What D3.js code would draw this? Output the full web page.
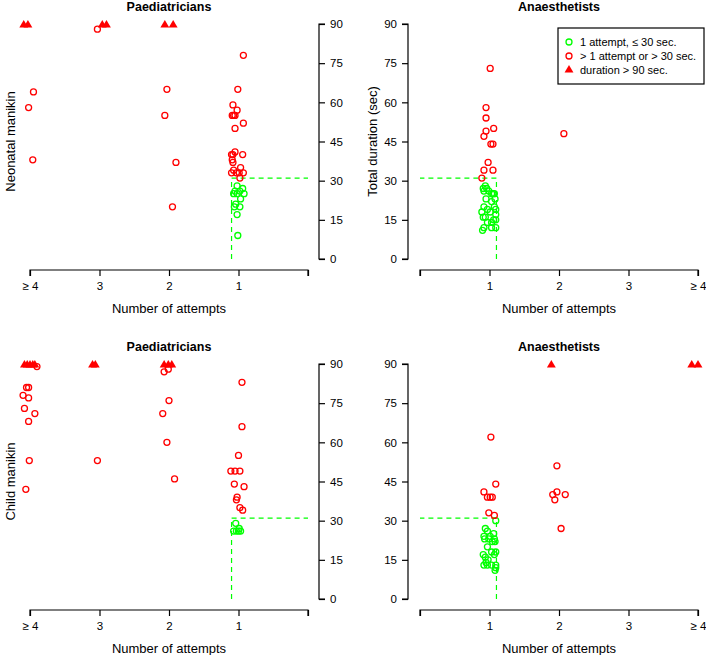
<!DOCTYPE html>
<html>
<head>
<meta charset="utf-8">
<script src="https://cdn.jsdelivr.net/npm/d3@7"></script>
<style>
  body { margin: 0; background: #fff; }
  text { font-family: "Liberation Sans", Arial, sans-serif; fill: #000; }
</style>
</head>
<body>
<svg id="chart" width="706" height="655"></svg>
<script>
// number of attempts (4 = "≥ 4", jittered) and total duration (sec)
const yTicks = [0, 15, 30, 45, 60, 75, 90];
const xTicks = [0, 1, 2, 3, 4];
const xTickLabels = ["", "1", "2", "3", "\u2265 4"];
const cutoffAttempts = 1.1, cutoffSec = 31;

// neonatal manikin, paediatricians
const neoPaedGreen = [[1.02,28],[0.94,27],[1.05,26],[0.98,26],[0.92,25],[1.02,25],[1.07,25],[0.97,23],[1.04,21],[1.06,20],[0.98,20],[1.02,17],[1.01,9]];
const neoPaedRed = [[3.95,64],[4.02,58],[3.96,38],[3.03,88],[2.03,65],[2.06,55],[1.90,37],[1.95,20],
  [0.93,78],[1.01,65],[1.08,59],[1.02,57],[1.09,55],[1.07,55],[1.05,55],[0.93,52],[1.05,50],
  [1.05,41],[1.08,40],[1.10,40],[0.94,40],[1.09,38],[1.08,37],[1.07,34],[0.97,35],
  [1.10,33],[1.03,33],[0.99,33],[0.93,33],[0.98,31]];
const neoPaedOver = [4.09, 4.03, 2.96, 2.90, 2.06, 1.94];

// neonatal manikin, anaesthetists
const neoAnaGreen = [[0.94,28],[0.91,27],[0.96,27],[0.92,26],[0.99,26],[1.05,25],[1.03,25],[1.07,25],[0.95,23],
  [1.03,22],[1.08,23],[0.92,20],[0.97,19],[1.07,20],[1.09,19],[0.89,18],[1.01,18],[1.09,17],[0.94,16],[0.91,16],
  [1.06,15],[1.09,15],[0.97,14],[1.03,14],[0.92,12],[0.90,11],[1.03,12],[1.09,12]];
const neoAnaRed = [[1.01,73],[0.95,58],[0.95,54],[1.06,50],[0.95,49],[0.92,47],[1.02,44],[1.05,44],[0.98,37],
  [0.92,34],[1.05,34],[0.89,31],[2.07,48]];
const neoAnaOver = [];

// child manikin, paediatricians
const childPaedGreen = [[1.04,29],[1.07,26],[1.03,26],[0.99,27],[0.97,26],[1.00,26]];
const childPaedRed = [[3.90,89],[4.05,81],[4.02,81],[4.10,78],[4.02,77],[4.08,73],[3.93,71],[4.02,68],[4.01,53],[4.06,42],
  [3.03,53],[2.07,87],[2.01,88],[2.00,76],[2.09,71],[2.03,60],[1.92,46],
  [0.95,83],[0.95,66],[1.00,55],[1.11,49],[1.05,49],[0.98,49],[1.06,44],[0.92,43],[1.02,39],[1.03,38],[0.98,35],[0.94,34]];
const childPaedOver = [4.08, 4.04, 4.00, 3.96, 3.93, 3.10, 3.06, 2.07, 2.01, 1.96];

// child manikin, anaesthetists
const childAnaGreen = [[1.09,30],[0.94,27],[0.97,26],[1.06,25],[0.92,24],[1.01,24],[0.93,23],[0.99,23],[1.07,23],
  [1.04,22],[1.08,22],[0.97,20],[1.03,18],[1.09,18],[0.91,17],[1.07,17],[0.94,16],[0.98,15],[0.95,14],
  [0.92,13],[0.97,13],[1.03,13],[1.09,13],[1.09,12],[1.08,11]];
const childAnaRed = [[1.02,62],[1.09,44],[0.92,41],[0.97,39],[1.01,39],[1.04,39],[0.99,33],[1.07,32],
  [1.97,51],[1.91,40],[1.97,41],[2.09,40],[1.94,38],[2.03,27]];
const childAnaOver = [1.89, 3.91, 4.00];

const red = "#ff0000", green = "#00ff00";

const svg = d3.select("#chart");

const panels = [
  {title: "Paediatricians", rowLabel: "Neonatal manikin", flip: true, top: 24, green: neoPaedGreen, red: neoPaedRed, over: neoPaedOver},
  {title: "Anaesthetists", rowLabel: "Total duration (sec)", flip: false, top: 24, green: neoAnaGreen, red: neoAnaRed, over: neoAnaOver, legend: true},
  {title: "Paediatricians", rowLabel: "Child manikin", flip: true, top: 364, green: childPaedGreen, red: childPaedRed, over: childPaedOver},
  {title: "Anaesthetists", rowLabel: null, flip: false, top: 364, green: childAnaGreen, red: childAnaRed, over: childAnaOver}
];

const tri = d3.symbol().type(d3.symbolTriangle).size(34);

panels.forEach(p => {
  const x = p.flip ? d3.scaleLinear().domain([4, 0]).range([30, 308])
                   : d3.scaleLinear().domain([0, 4]).range([420, 698]);
  const y = d3.scaleLinear().domain([0, 90]).range([p.top + 235, p.top]);
  const axisY = p.top + 246;
  const g = svg.append("g");

  // x axis
  g.append("g")
    .attr("transform", `translate(0,${axisY})`)
    .call(d3.axisBottom(x).tickValues(xTicks).tickFormat((d, i) => xTickLabels[d]).tickSize(6).tickPadding(6))
    .call(a => a.select(".domain").attr("d", `M${x.range()[0]},6V0H${x.range()[1]}V6`))
    .call(a => a.selectAll("text").style("font-size", "11.5px").attr("font-family", null));

  // y axis
  const yAxis = p.flip ? d3.axisRight(y) : d3.axisLeft(y);
  g.append("g")
    .attr("transform", `translate(${p.flip ? 319 : 408},0)`)
    .call(yAxis.tickValues(yTicks).tickSize(6).tickPadding(5))
    .call(a => a.select(".domain").attr("d", `M${p.flip ? 6 : -6},${y(0)}H0V${y(90)}H${p.flip ? 6 : -6}`))
    .call(a => a.selectAll("text").style("font-size", "11.5px").attr("font-family", null));
  g.selectAll(".domain, .tick line").attr("stroke", "#000").attr("stroke-width", 1.2);

  // titles
  g.append("text").attr("x", x(2)).attr("y", p.top - 13)
    .attr("text-anchor", "middle").style("font-size", "12.5px").style("font-weight", "bold").text(p.title);
  g.append("text").attr("x", x(2)).attr("y", axisY + 43)
    .attr("text-anchor", "middle").style("font-size", "13px").text("Number of attempts");
  if (p.rowLabel) {
    const lx = p.flip ? 15 : 377;
    g.append("text").attr("transform", `translate(${lx},${y(45)}) rotate(-90)`)
      .attr("text-anchor", "middle").style("font-size", "13px").text(p.rowLabel);
  }

  // cutoff lines
  g.append("path")
    .attr("d", `M${x(cutoffAttempts)},${y(0)}V${y(cutoffSec)}H${x(0)}`)
    .attr("fill", "none").attr("stroke", green).attr("stroke-width", 1.2).attr("stroke-dasharray", "5,4");

  // points
  g.append("g").selectAll("circle").data(p.green).join("circle")
    .attr("cx", d => x(d[0])).attr("cy", d => y(d[1])).attr("r", 3)
    .attr("fill", "none").attr("stroke", green).attr("stroke-width", 1.3);
  g.append("g").selectAll("circle").data(p.red).join("circle")
    .attr("cx", d => x(d[0])).attr("cy", d => y(d[1])).attr("r", 3)
    .attr("fill", "none").attr("stroke", red).attr("stroke-width", 1.3);
  g.append("g").selectAll("path").data(p.over).join("path")
    .attr("transform", d => `translate(${x(d)},${y(90) + 1})`)
    .attr("d", tri).attr("fill", red);

  if (p.legend) {
    const lg = g.append("g").attr("transform", "translate(558,28)");
    lg.append("rect").attr("width", 146).attr("height", 56)
      .attr("fill", "#fff").attr("stroke", "#000").attr("stroke-width", 1.2);
    const items = [
      {label: "1 attempt, \u2264 30 sec.", kind: "circle", color: green},
      {label: "> 1 attempt or > 30 sec.", kind: "circle", color: red},
      {label: "duration > 90 sec.", kind: "tri", color: red}
    ];
    items.forEach((it, i) => {
      const cy = 14 + i * 14;
      if (it.kind === "circle") {
        lg.append("circle").attr("cx", 11).attr("cy", cy).attr("r", 3)
          .attr("fill", "none").attr("stroke", it.color).attr("stroke-width", 1.3);
      } else {
        lg.append("path").attr("transform", `translate(11,${cy})`).attr("d", tri).attr("fill", it.color);
      }
      lg.append("text").attr("x", 22).attr("y", cy + 4).style("font-size", "11px").text(it.label);
    });
  }
});
</script>
</body>
</html>
